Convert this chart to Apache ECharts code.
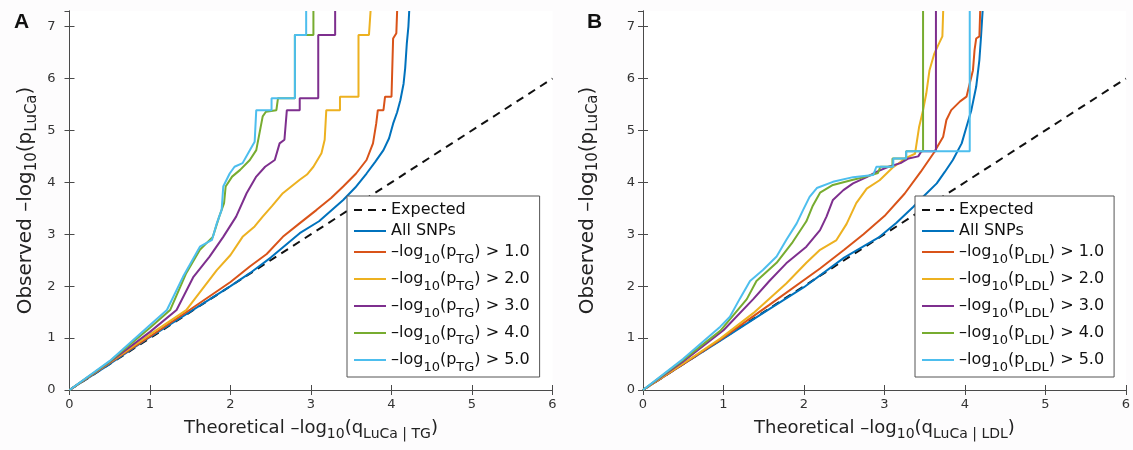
<!DOCTYPE html>
<html>
<head>
<meta charset="utf-8">
<script src="https://cdn.jsdelivr.net/npm/echarts@6/dist/echarts.min.js"></script>
<style>
  html, body { margin: 0; padding: 0; background: #fdfcfd; }
  #chart { width: 1133px; height: 450px; }
</style>
</head>
<body>
<div id="chart"></div>
<script>
// expected line y = x
const expected = [[0, 0], [6, 6]];
const thresholds = ['1.0', '2.0', '3.0', '4.0', '5.0'];

// panel A : conditioned on TG
const allA = [[0,0],[0.5,0.5],[1,1.02],[1.5,1.51],[2,2.0],[2.24,2.25],[2.5,2.55],[2.86,3.02],[3.1,3.25],[3.4,3.66],[3.55,3.9],[3.69,4.17],[3.8,4.4],[3.9,4.62],[3.97,4.85],[4.02,5.13],[4.07,5.35],[4.11,5.58],[4.15,5.9],[4.17,6.2],[4.19,6.67],[4.21,7.0],[4.22,7.3]];
const tg1 = [[0,0],[0.5,0.52],[1,1.03],[1.5,1.55],[2,2.08],[2.24,2.38],[2.45,2.62],[2.65,2.95],[2.85,3.2],[3.07,3.47],[3.25,3.7],[3.4,3.92],[3.56,4.17],[3.69,4.43],[3.77,4.75],[3.81,5.13],[3.83,5.39],[3.9,5.39],[3.92,5.65],[4.0,5.65],[4.02,6.77],[4.06,6.87],[4.07,7.3]];
const tg2 = [[0,0],[0.5,0.53],[1,1.07],[1.45,1.54],[1.83,2.31],[2.0,2.6],[2.15,2.95],[2.3,3.15],[2.4,3.34],[2.52,3.55],[2.65,3.79],[2.86,4.05],[2.95,4.15],[3.03,4.3],[3.13,4.56],[3.17,4.82],[3.19,5.39],[3.36,5.39],[3.36,5.65],[3.59,5.65],[3.59,6.84],[3.72,6.84],[3.74,7.3]];
const tg3 = [[0,0],[0.5,0.54],[1,1.12],[1.33,1.54],[1.54,2.18],[1.74,2.57],[1.91,2.95],[2.07,3.34],[2.2,3.79],[2.32,4.11],[2.43,4.3],[2.55,4.43],[2.61,4.75],[2.67,4.82],[2.7,5.39],[2.86,5.39],[2.86,5.62],[3.09,5.62],[3.09,6.84],[3.3,6.84],[3.3,7.3]];
const tg4 = [[0,0],[0.5,0.55],[1,1.2],[1.25,1.54],[1.45,2.25],[1.62,2.7],[1.78,2.95],[1.86,3.34],[1.92,3.6],[1.94,3.92],[2.02,4.11],[2.12,4.24],[2.24,4.43],[2.32,4.62],[2.4,5.27],[2.44,5.36],[2.57,5.39],[2.59,5.62],[2.8,5.62],[2.8,6.84],[3.03,6.84],[3.03,7.3]];
const tg5 = [[0,0],[0.5,0.56],[1,1.25],[1.21,1.54],[1.41,2.18],[1.62,2.76],[1.77,2.89],[1.83,3.21],[1.89,3.47],[1.91,3.92],[1.99,4.17],[2.05,4.3],[2.15,4.37],[2.24,4.62],[2.3,4.78],[2.32,5.39],[2.51,5.39],[2.51,5.62],[2.8,5.62],[2.8,6.84],[2.94,6.84],[2.94,7.3]];

// panel B : conditioned on LDL
const allB = [[0,0],[0.5,0.5],[1,0.99],[1.5,1.49],[2,1.98],[2.5,2.55],[2.94,2.95],[3.15,3.22],[3.36,3.53],[3.5,3.75],[3.65,3.98],[3.75,4.2],[3.85,4.43],[3.96,4.75],[4.02,5.07],[4.08,5.39],[4.14,5.84],[4.18,6.36],[4.2,6.8],[4.22,7.3]];
const ldl1 = [[0,0],[0.5,0.5],[0.96,0.97],[1.57,1.64],[2.2,2.34],[2.5,2.7],[2.74,3.0],[3.0,3.35],[3.25,3.78],[3.45,4.2],[3.61,4.56],[3.73,4.88],[3.77,5.2],[3.83,5.39],[3.94,5.56],[4.02,5.65],[4.04,5.78],[4.1,6.16],[4.12,6.55],[4.14,6.77],[4.18,6.81],[4.19,7.3]];
const ldl2 = [[0,0],[0.5,0.51],[0.96,0.99],[1.37,1.48],[1.78,2.05],[2.03,2.45],[2.2,2.7],[2.4,2.88],[2.53,3.2],[2.65,3.6],[2.78,3.88],[2.94,4.04],[3.1,4.28],[3.27,4.47],[3.38,4.55],[3.43,5.06],[3.48,5.39],[3.52,5.71],[3.56,6.16],[3.62,6.48],[3.68,6.68],[3.72,6.81],[3.73,7.3]];
const ldl3 = [[0,0],[0.5,0.55],[1,1.15],[1.37,1.75],[1.57,2.1],[1.78,2.44],[2.03,2.76],[2.2,3.08],[2.28,3.34],[2.36,3.66],[2.49,3.85],[2.61,3.98],[2.78,4.1],[2.9,4.2],[3.05,4.3],[3.2,4.37],[3.3,4.46],[3.42,4.5],[3.46,4.6],[3.64,4.6],[3.64,7.3]];
const ldl4 = [[0,0],[0.5,0.58],[0.96,1.14],[1.29,1.75],[1.41,2.1],[1.66,2.45],[1.86,2.85],[2.03,3.25],[2.11,3.55],[2.2,3.8],[2.36,3.95],[2.61,4.05],[2.75,4.1],[2.92,4.18],[2.95,4.3],[3.1,4.3],[3.1,4.46],[3.27,4.46],[3.27,4.6],[3.48,4.6],[3.48,7.3]];
const ldl5 = [[0,0],[0.5,0.6],[0.96,1.22],[1.08,1.41],[1.2,1.75],[1.33,2.1],[1.49,2.31],[1.66,2.57],[1.78,2.89],[1.91,3.21],[1.99,3.47],[2.07,3.72],[2.16,3.89],[2.36,4.01],[2.61,4.1],[2.86,4.14],[2.9,4.3],[3.11,4.3],[3.11,4.46],[3.27,4.46],[3.27,4.6],[4.06,4.6],[4.06,7.3]];

const colors = ['#D95319', '#EDB120', '#7E2F8E', '#77AC30', '#4DBEEE'];
const blue = '#0072BD';
const font = 'DejaVu Sans';

const chart = echarts.init(document.getElementById('chart'));

function axesFor(gi, xName, yName, yGap, yMargin) {
  const line = { show: true, lineStyle: { color: '#4a4a4a', width: 1 } };
  const tick = { show: true, inside: true, length: 5, lineStyle: { color: '#4a4a4a' } };
  return {
    x: [
      { gridIndex: gi, type: 'value', min: 0, max: 6, interval: 1, axisLine: line, axisTick: tick,
        splitLine: { show: false },
        axisLabel: { color: '#333', fontSize: 13, fontFamily: font, margin: 8 },
        name: xName, nameLocation: 'middle', nameGap: 26,
        nameTextStyle: { fontSize: 18, fontFamily: font, color: '#222',
          rich: { s: { fontSize: 14, fontFamily: font, padding: [11, 0, 0, 0] } } } },
      { gridIndex: gi, type: 'value', position: 'top', min: 0, max: 6, interval: 1, axisLine: line,
        axisTick: tick, axisLabel: { show: false }, splitLine: { show: false } }
    ],
    y: [
      { gridIndex: gi, type: 'value', min: 0, max: 7.3, interval: 1, axisLine: line, axisTick: tick,
        splitLine: { show: false },
        axisLabel: { color: '#333', fontSize: 13, fontFamily: font, margin: yMargin, showMaxLabel: false },
        name: yName, nameLocation: 'middle', nameGap: yGap,
        nameTextStyle: { fontSize: 20, fontFamily: font, color: '#222',
          rich: { s: { fontSize: 15, fontFamily: font, padding: [12, 0, 0, 0] } } } },
      { gridIndex: gi, type: 'value', position: 'right', min: 0, max: 7.3, interval: 1, axisLine: line,
        axisTick: tick, axisLabel: { show: false }, splitLine: { show: false } }
    ]
  };
}

const axA = axesFor(0, 'Theoretical –log{s|10}(q{s|LuCa | TG})', 'Observed –log{s|10}(p{s|LuCa})', 30, 14);
const axB = axesFor(1, 'Theoretical –log{s|10}(q{s|LuCa | LDL})', 'Observed –log{s|10}(p{s|LuCa})', 42, 8);

function panelSeries(ax, all, sets, tag) {
  const base = { type: 'line', xAxisIndex: ax, yAxisIndex: ax, symbol: 'none', showSymbol: false,
    animation: false, silent: true };
  const out = [
    Object.assign({}, base, { name: 'Expected', data: expected,
      lineStyle: { color: '#111', width: 2, type: [8, 6] }, itemStyle: { color: '#111' } }),
    Object.assign({}, base, { name: 'All SNPs', data: all,
      lineStyle: { color: blue, width: 2 }, itemStyle: { color: blue } })
  ];
  sets.forEach((d, i) => {
    out.push(Object.assign({}, base, { name: tag + ' ' + thresholds[i], data: d,
      lineStyle: { color: colors[i], width: 2 }, itemStyle: { color: colors[i] } }));
  });
  return out;
}

function legendFor(left, top, tag) {
  return {
    left: left, top: top, orient: 'vertical',
    data: ['Expected', 'All SNPs'].concat(thresholds.map(t => tag + ' ' + t)),
    backgroundColor: '#fff', borderColor: '#555', borderWidth: 1,
    padding: [6, 10, 3, 6], itemWidth: 32, itemHeight: 12, itemGap: 5,
    selectedMode: false,
    itemStyle: { opacity: 0 },
    textStyle: { fontSize: 16, fontFamily: font, color: '#111',
      rich: { s: { fontSize: 13, fontFamily: font, padding: [15, 0, 0, 0] } } },
    formatter: function (name) {
      if (name === 'Expected' || name === 'All SNPs') return name;
      const parts = name.split(' ');
      return '–log{s|10}(p{s|' + parts[0] + '}) > ' + parts[1];
    }
  };
}

const option = {
  backgroundColor: '#fdfcfd',
  grid: [
    { left: 69.5, top: 11, width: 483, height: 379, backgroundColor: '#fff', show: true, borderWidth: 0 },
    { left: 643, top: 11, width: 483, height: 379, backgroundColor: '#fff', show: true, borderWidth: 0 }
  ],
  xAxis: axA.x.concat(axB.x),
  yAxis: axA.y.concat(axB.y),
  legend: [legendFor(347, 196, 'TG'), legendFor(915, 196, 'LDL')],
  graphic: [
    { type: 'text', left: 14, top: 12, style: { text: 'A', fontSize: 21, fontWeight: 'bold', fontFamily: 'Liberation Sans', fill: '#111' } },
    { type: 'text', left: 587, top: 12, style: { text: 'B', fontSize: 21, fontWeight: 'bold', fontFamily: 'Liberation Sans', fill: '#111' } }
  ],
  series: panelSeries(0, allA, [tg1, tg2, tg3, tg4, tg5], 'TG')
    .concat(panelSeries(2, allB, [ldl1, ldl2, ldl3, ldl4, ldl5], 'LDL'))
};

chart.setOption(option);
</script>
</body>
</html>
